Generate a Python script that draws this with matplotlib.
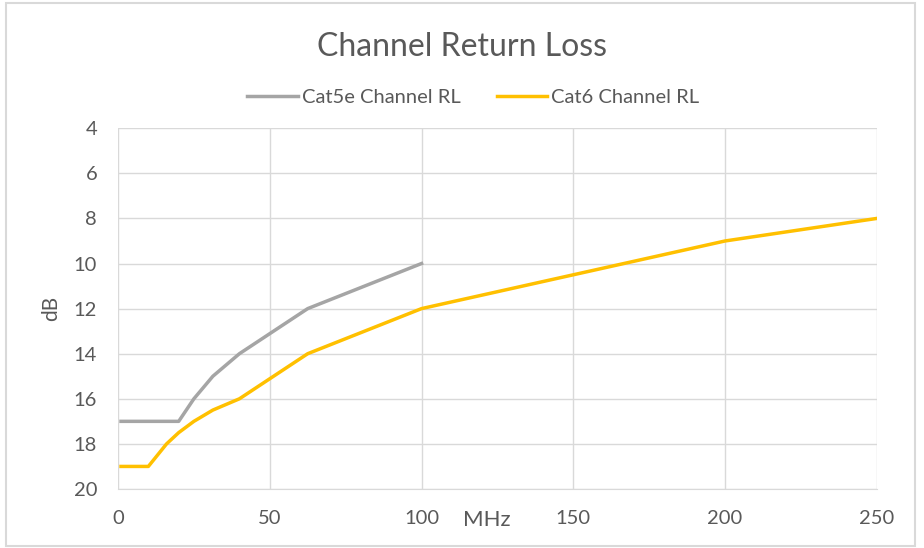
import matplotlib
matplotlib.use('Agg')
import matplotlib.pyplot as plt
from matplotlib.patches import Rectangle

# data
cat5e_mhz = [1, 20, 25, 31.25, 40, 62.5, 100]
cat5e_db = [17, 17, 16, 15, 14, 12, 10]
cat6_mhz = [1, 10, 16, 20, 25, 31.25, 40, 62.5, 100, 200, 250]
cat6_db = [19, 19, 18, 17.5, 17, 16.5, 16, 14, 12, 9, 8]
x_ticks = [0, 50, 100, 150, 200, 250]
y_ticks = [4, 6, 8, 10, 12, 14, 16, 18, 20]

plt.rcParams['font.family'] = ['Lato', 'DejaVu Sans']
text_col = '#595959'

fig = plt.figure(figsize=(9.24, 5.48), dpi=100)
fig.patches.append(Rectangle((0.006, 0.004), 0.984, 0.99, transform=fig.transFigure,
                             fill=False, edgecolor='#d9d9d9', linewidth=1.5))
ax = fig.add_axes([0.1277, 0.1077, 0.8213, 0.6583])

ax.plot(cat5e_mhz, cat5e_db, color='#a5a5a5', linewidth=2.5, label='Cat5e Channel RL')
ax.plot(cat6_mhz, cat6_db, color='#ffc000', linewidth=2.5, label='Cat6 Channel RL')

ax.set_xlim(0, 250)
ax.set_ylim(20, 4)
ax.set_xticks(x_ticks)
ax.set_yticks(y_ticks)
ax.grid(True, color='#d9d9d9', linewidth=1)
ax.set_axisbelow(True)
for s in ax.spines.values():
    s.set_visible(False)
ax.spines['bottom'].set_visible(True)
ax.spines['bottom'].set_color('#d9d9d9')
ax.tick_params(length=0, labelsize=14.5, labelcolor=text_col)
ax.tick_params(axis='x', pad=15)
ax.tick_params(axis='y', pad=15)

ax.set_ylabel('dB', fontsize=15, color=text_col, labelpad=9)
fig.text(0.527, 0.051, 'MHz', fontsize=16, color=text_col, ha='center', va='center')
fig.text(0.5, 0.914, 'Channel Return Loss', fontsize=23, color=text_col, ha='center', va='center')

ax.legend(loc='center', bbox_to_anchor=(0.468, 1.084), ncol=2, frameon=False,
          fontsize=14.5, labelcolor=text_col, handlelength=2.5, columnspacing=1.8,
          handletextpad=0.2)

fig.savefig('out.png', dpi=100)
